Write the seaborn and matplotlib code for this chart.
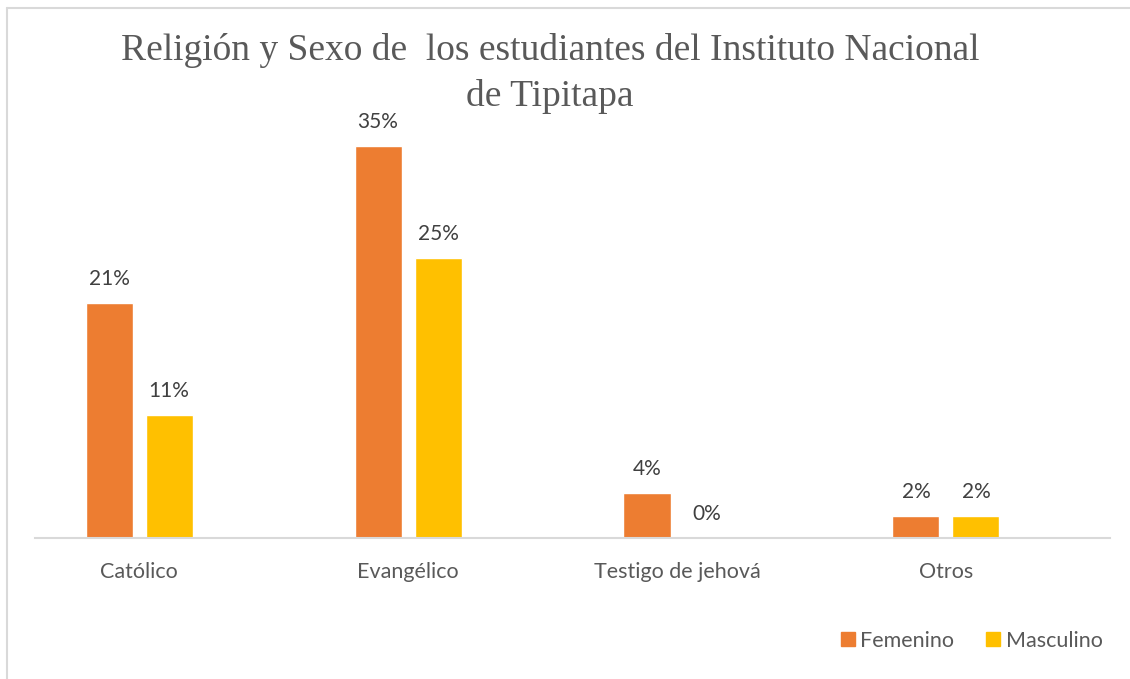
import pandas as pd
import seaborn as sns
import matplotlib.pyplot as plt
from matplotlib.lines import Line2D

# datos del gráfico
religiones = ['Católico', 'Evangélico', 'Testigo de jehová', 'Otros']
femenino = [21, 35, 4, 2]
masculino = [11, 25, 0, 2]
sexos = ['Femenino', 'Masculino']
colores = ['#ED7D31', '#FFC000']
titulo = ['Religión y Sexo de  los estudiantes del Instituto Nacional', 'de Tipitapa']

df = pd.DataFrame({
    'Religion': religiones * 2,
    'Sexo': ['Femenino'] * len(religiones) + ['Masculino'] * len(religiones),
    'Porcentaje': femenino + masculino,
})

sns.set_theme(style='white')
plt.rcParams['font.family'] = ['Lato', 'DejaVu Sans']

fig = plt.figure(figsize=(11.3, 6.79), dpi=100)
ax = fig.add_axes([35 / 1130, 141 / 679, 1075 / 1130, 448 / 679])

sns.barplot(data=df, x='Religion', y='Porcentaje', hue='Sexo', hue_order=sexos,
            palette=colores, width=0.446, gap=0.216, saturation=1, ax=ax, legend=False)

# etiquetas de datos
for cont in ax.containers:
    ax.bar_label(cont, fmt='{:.0f}%', padding=10, fontsize=15, color='#404040')

ax.set_ylim(0, 40)
ax.set_xlim(-0.387, 3.61)
ax.set_xlabel('')
ax.set_ylabel('')
ax.set_yticks([])
ax.tick_params(axis='x', length=0, pad=17, labelsize=15.5, labelcolor='#595959')
for s in ['top', 'right', 'left']:
    ax.spines[s].set_visible(False)
ax.spines['bottom'].set_color('#D9D9D9')
ax.spines['bottom'].set_linewidth(1.5)

# título en dos líneas separadas
for linea, ypix in zip(titulo, [51, 97]):
    fig.text(550 / 1130, 1 - ypix / 679, linea, ha='center', va='center',
             fontsize=27, color='#595959', family='Liberation Serif')

# leyenda
handles = [Line2D([], [], marker='s', linestyle='', markersize=9.5,
                  markerfacecolor=c, markeredgecolor=c) for c in colores]
fig.legend(handles, sexos, loc='center right', bbox_to_anchor=(1103 / 1130, 1 - 641 / 679),
           ncol=2, frameon=False, fontsize=15.5, labelcolor='#595959',
           handlelength=0.6, handletextpad=0.3, columnspacing=1.5, borderpad=0,
           borderaxespad=0)

# borde del área del gráfico
fig.add_artist(Line2D([7 / 1130, 1], [1 - 8 / 679, 1 - 8 / 679], color='#D9D9D9', lw=1.5))
fig.add_artist(Line2D([7 / 1130, 7 / 1130], [0, 1 - 8 / 679], color='#D9D9D9', lw=1.5))

fig.savefig('out.png', dpi=100)
